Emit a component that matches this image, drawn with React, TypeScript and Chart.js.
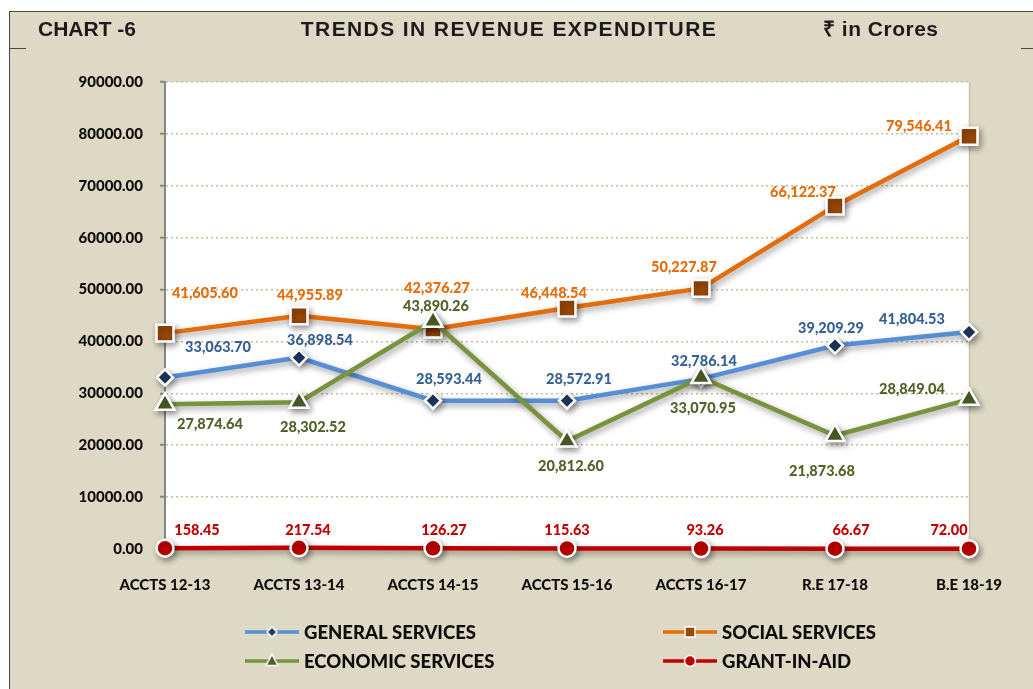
import React, { useEffect, useRef } from 'react';
import { Chart, registerables } from 'chart.js';

Chart.register(...registerables);

// ---------- data ----------
const CATEGORIES = ['ACCTS 12-13', 'ACCTS 13-14', 'ACCTS 14-15', 'ACCTS 15-16', 'ACCTS 16-17', 'R.E 17-18', 'B.E 18-19'];
const GENERAL_SERVICES = [33063.70, 36898.54, 28593.44, 28572.91, 32786.14, 39209.29, 41804.53];
const SOCIAL_SERVICES = [41605.60, 44955.89, 42376.27, 46448.54, 50227.87, 66122.37, 79546.41];
const ECONOMIC_SERVICES = [27874.64, 28302.52, 43890.26, 20812.60, 33070.95, 21873.68, 28849.04];
const GRANT_IN_AID = [158.45, 217.54, 126.27, 115.63, 93.26, 66.67, 72.00];
const Y_MIN = 0;
const Y_MAX = 90000;
const Y_STEP = 10000;

const TITLE_LEFT = 'CHART -6';
const TITLE_MAIN = 'TRENDS IN REVENUE EXPENDITURE';
const TITLE_RIGHT = '\u20B9 in Crores';

// label offsets relative to each point (style only)
const OFF_GENERAL = [[53, -30], [21, -17], [16, -21], [12, -21], [3, -18], [-4, -17], [-57, -13]];
const OFF_SOCIAL = [[40, -40], [11, -20], [4, -41], [-13, -15], [-17, -21], [-32, -14], [-50, -10]];
const OFF_ECONOMIC = [[45, 20], [14, 25], [3, -15], [4, 25], [2, 31], [-13, 36], [-57, -10]];
const OFF_GRANT = [[32, -18], [9, -18], [11, -18], [0, -18], [4, -18], [16, -18], [-20, -18]];

const FONT = 'Lato, "Open Sans", sans-serif';
const BEIGE = '#DDD9C4';

type Series = {
  name: string;
  data: number[];
  line: string;
  marker: string;
  labelColor: string;
  style: string;
  radius: number;
  offsets: number[][];
};

const fmt = (v: number) => v.toLocaleString('en-US', { minimumFractionDigits: 2, maximumFractionDigits: 2 });

function drawMarker(ctx: CanvasRenderingContext2D, style: string, x: number, y: number, r: number, fill: string, bw: number) {
  ctx.save();
  ctx.beginPath();
  if (style === 'rectRot') {
    ctx.moveTo(x, y - r); ctx.lineTo(x + r, y); ctx.lineTo(x, y + r); ctx.lineTo(x - r, y); ctx.closePath();
  } else if (style === 'rect') {
    ctx.rect(x - r, y - r, 2 * r, 2 * r);
  } else if (style === 'triangle') {
    ctx.moveTo(x, y - r * 1.1); ctx.lineTo(x + r, y + r * 0.75); ctx.lineTo(x - r, y + r * 0.75); ctx.closePath();
  } else {
    ctx.arc(x, y, r, 0, Math.PI * 2);
  }
  ctx.fillStyle = fill;
  ctx.fill();
  ctx.lineWidth = bw;
  ctx.strokeStyle = '#ffffff';
  ctx.stroke();
  ctx.restore();
}

export default function App() {
  const ref = useRef<HTMLCanvasElement>(null);

  useEffect(() => {
    if (!ref.current) return;
    const series: Series[] = [
      { name: 'GENERAL SERVICES', data: GENERAL_SERVICES, line: '#558ED5', marker: '#1F3B63', labelColor: '#376092', style: 'rectRot', radius: 8, offsets: OFF_GENERAL },
      { name: 'SOCIAL SERVICES', data: SOCIAL_SERVICES, line: '#E46C0A', marker: '#984807', labelColor: '#E46C0A', style: 'rect', radius: 12, offsets: OFF_SOCIAL },
      { name: 'ECONOMIC SERVICES', data: ECONOMIC_SERVICES, line: '#77933C', marker: '#4F6228', labelColor: '#4F6228', style: 'triangle', radius: 11, offsets: OFF_ECONOMIC },
      { name: 'GRANT-IN-AID', data: GRANT_IN_AID, line: '#C00000', marker: '#C00000', labelColor: '#C00000', style: 'circle', radius: 8.5, offsets: OFF_GRANT },
    ];
    // drawing order: later series on top -> reverse for chart.js (index 0 on top)
    const ordered = [...series].reverse();

    const framePlugin = {
      id: 'frame',
      beforeDraw(chart: any) {
        const { ctx, chartArea, width, height } = chart;
        ctx.save();
        ctx.fillStyle = '#ffffff';
        ctx.fillRect(0, 0, width, height);
        ctx.fillStyle = BEIGE;
        ctx.fillRect(9, 11, width - 9, height - 11);
        ctx.strokeStyle = '#4a4a40';
        ctx.lineWidth = 1;
        ctx.beginPath();
        ctx.moveTo(9, 11.5); ctx.lineTo(width, 11.5);
        ctx.moveTo(9.5, 11); ctx.lineTo(9.5, height);
        ctx.moveTo(9, 48.5); ctx.lineTo(26, 48.5);
        ctx.moveTo(1021, 48.5); ctx.lineTo(width, 48.5);
        ctx.stroke();
        ctx.fillStyle = '#ffffff';
        ctx.fillRect(chartArea.left, chartArea.top, chartArea.right - chartArea.left, chartArea.bottom - chartArea.top);
        ctx.strokeStyle = '#C8C2A6';
        ctx.lineWidth = 1.5;
        ctx.beginPath();
        ctx.moveTo(chartArea.right + 0.5, chartArea.top);
        ctx.lineTo(chartArea.right + 0.5, chartArea.bottom);
        ctx.stroke();
        ctx.restore();
      },
      afterDraw(chart: any) {
        const ctx: CanvasRenderingContext2D = chart.ctx;
        ctx.save();
        ctx.fillStyle = '#1c1c1c';
        ctx.font = 'bold 21px "Liberation Sans", Arial, sans-serif';
        ctx.textBaseline = 'middle';
        ctx.textAlign = 'left';
        ctx.fillText(TITLE_LEFT, 38, 30);
        (ctx as any).letterSpacing = '1.4px';
        ctx.textAlign = 'center';
        ctx.fillText(TITLE_MAIN, 509, 30);
        (ctx as any).letterSpacing = '0.5px';
        ctx.textAlign = 'left';
        ctx.fillText(TITLE_RIGHT, 823, 30);
        (ctx as any).letterSpacing = '0px';

        // legend
        const pos = [
          { lx: 245, ly: 632 },
          { lx: 663, ly: 632 },
          { lx: 245, ly: 661 },
          { lx: 663, ly: 661 },
        ];
        series.forEach((s, i) => {
          const p = pos[i];
          ctx.strokeStyle = s.line;
          ctx.lineWidth = 3.5;
          ctx.beginPath();
          ctx.moveTo(p.lx, p.ly);
          ctx.lineTo(p.lx + 54, p.ly);
          ctx.stroke();
          const mr = s.style === 'rect' ? 5 : s.style === 'rectRot' ? 5 : s.style === 'triangle' ? 6 : 5.5;
          drawMarker(ctx, s.style, p.lx + 27, p.ly, mr, s.marker, 1.5);
          ctx.fillStyle = '#0d0d0d';
          ctx.font = `900 18.5px ${FONT}`;
          ctx.textAlign = 'left';
          ctx.textBaseline = 'middle';
          ctx.fillText(s.name, p.lx + 59, p.ly + 1);
        });
        ctx.restore();
      },
      beforeDatasetDraw(chart: any) {
        const ctx = chart.ctx;
        ctx.save();
        ctx.shadowColor = 'rgba(0,0,0,0.38)';
        ctx.shadowBlur = 6;
        ctx.shadowOffsetX = 2;
        ctx.shadowOffsetY = 3;
      },
      afterDatasetDraw(chart: any) {
        chart.ctx.restore();
      },
      afterDatasetsDraw(chart: any) {
        const ctx: CanvasRenderingContext2D = chart.ctx;
        ctx.save();
        ctx.font = `900 14.5px ${FONT}`;
        ctx.textAlign = 'center';
        ctx.textBaseline = 'middle';
        ordered.forEach((s, di) => {
          const meta = chart.getDatasetMeta(di);
          meta.data.forEach((pt: any, j: number) => {
            const o = s.offsets[j];
            ctx.fillStyle = s.labelColor;
            ctx.fillText(fmt(s.data[j]), pt.x + o[0], pt.y + o[1]);
          });
        });
        ctx.restore();
      },
    };

    const chart = new Chart(ref.current, {
      type: 'line',
      data: {
        labels: CATEGORIES,
        datasets: ordered.map((s) => ({
          label: s.name,
          data: s.data,
          borderColor: s.line,
          borderWidth: 4.5,
          backgroundColor: s.marker,
          pointStyle: s.style as any,
          pointRadius: s.radius,
          pointHoverRadius: s.radius,
          pointBackgroundColor: s.marker,
          pointBorderColor: '#ffffff',
          pointBorderWidth: 2.5,
          tension: 0,
          fill: false,
          clip: false as any,
        })),
      },
      options: {
        responsive: false,
        maintainAspectRatio: false,
        animation: false,
        devicePixelRatio: 1,
        layout: { padding: { left: 0, top: 82, right: 64, bottom: 0 } },
        plugins: {
          legend: { display: false },
          tooltip: { enabled: false },
          title: { display: false },
        },
        scales: {
          x: {
            type: 'category',
            offset: false,
            grid: { display: false },
            border: { display: true, color: '#A0A0A0', width: 1 },
            ticks: {
              color: '#0d0d0d',
              font: { family: FONT, size: 15, weight: '900' },
              padding: 19,
              maxRotation: 0,
              autoSkip: false,
            },
            afterFit(scale: any) { scale.height = 140; },
          },
          y: {
            min: Y_MIN,
            max: Y_MAX,
            ticks: {
              stepSize: Y_STEP,
              color: '#0d0d0d',
              font: { family: FONT, size: 15, weight: '900' },
              padding: 17,
              callback: (v: any) => Number(v).toFixed(2),
            },
            grid: {
              color: '#C4BD97',
              lineWidth: 1.5,
              drawTicks: true,
              tickLength: 5,
              tickColor: '#868686',
              tickBorderDash: [] as any,
              tickWidth: 2,
            } as any,
            border: { display: true, color: '#868686', width: 2, dash: [2, 3] as any },
            afterFit(scale: any) { scale.width = 165; },
          },
        },
      } as any,
      plugins: [framePlugin],
    });
    return () => chart.destroy();
  }, []);

  return (
    <canvas
      ref={ref}
      width={1033}
      height={689}
      style={{ position: 'absolute', left: 0, top: 0, width: 1033, height: 689, display: 'block' }}
    />
  );
}
